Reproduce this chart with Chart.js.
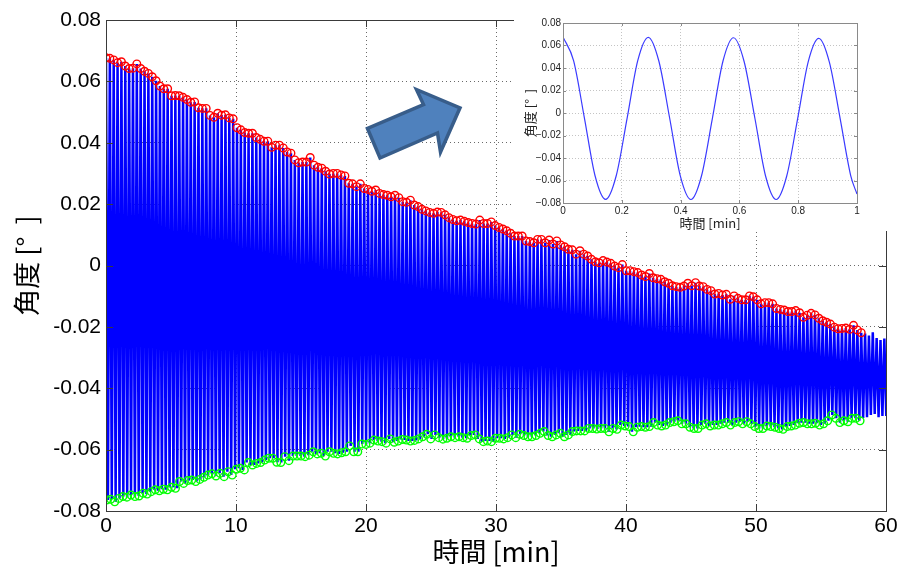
<!DOCTYPE html>
<html><head><meta charset="utf-8">
<script src="https://cdn.jsdelivr.net/npm/chart.js@4/dist/chart.umd.min.js"></script>
<style>
html,body{margin:0;padding:0;background:#fff;}
#wrap{position:relative;width:902px;height:571px;overflow:hidden;background:#fff;}
#main{position:absolute;left:0;top:0;}
#arrow{position:absolute;left:0;top:0;pointer-events:none;}
#insetBox{position:absolute;left:514px;top:0;width:388px;height:231px;background:#fff;}
#inset{position:absolute;left:0;top:0;}
</style></head><body>
<div id="wrap">
<canvas id="main" width="902" height="571"></canvas>
<svg id="arrow" width="902" height="571">
  <polygon points="367.5,128.5 380,158 437.5,133 440.5,152 460,107.8 416.5,89.5 423.5,104.5" fill="#4F81BD" stroke="#385D8A" stroke-width="3.5" stroke-linejoin="miter"/>
</svg>
<div id="insetBox"><canvas id="inset" width="388" height="231"></canvas></div>
</div>
<script>
// ---- main chart data ----
const peakValues = [
 0.0677,0.0675,0.0670,0.0661,0.0664,0.0650,0.0642,0.0643,0.0657,0.0642,
 0.0633,0.0626,0.0615,0.0602,0.0585,0.0576,0.0576,0.0553,0.0554,0.0553,
 0.0548,0.0541,0.0532,0.0533,0.0514,0.0512,0.0512,0.0489,0.0483,0.0496,
 0.0490,0.0491,0.0481,0.0478,0.0449,0.0442,0.0433,0.0431,0.0431,0.0417,
 0.0411,0.0405,0.0405,0.0385,0.0392,0.0392,0.0383,0.0370,0.0366,0.0344,
 0.0335,0.0337,0.0337,0.0352,0.0327,0.0320,0.0317,
 0.0307,0.0298,0.0300,0.0300,0.0295,0.0292,0.0268,0.0266,0.0257,0.0266,
 0.0251,0.0248,0.0242,0.0246,0.0235,0.0231,0.0229,0.0224,0.0229,0.0221,
 0.0208,0.0206,0.0213,0.0197,0.0192,0.0183,0.0178,0.0173,0.0170,0.0174,
 0.0173,0.0165,0.0156,0.0150,0.0146,0.0148,0.0144,0.0140,0.0137,0.0135,
 0.0148,0.0137,0.0137,0.0142,0.0130,0.0124,0.0119,0.0113,0.0105,0.0096,
 0.0096,0.0096,0.0080,0.0078,0.0074,0.0085,0.0085,0.0074,0.0083,0.0070,
 0.0080,0.0067,0.0061,0.0053,0.0051,0.0037,0.0048,0.0037,0.0031,0.0020,
 0.0012,0.0009,0.0016,0.0011,0.0007,-0.0002,-0.0007,0.0003,-0.0017,-0.0017,
 -0.0020,-0.0023,-0.0031,-0.0036,-0.0026,-0.0040,-0.0043,-0.0045,-0.0053,-0.0058,
 -0.0066,-0.0069,-0.0071,-0.0067,-0.0058,-0.0066,-0.0056,-0.0067,
 -0.0069,-0.0078,-0.0082,-0.0093,-0.0091,-0.0096,-0.0094,-0.0110,-0.0099,-0.0107,
 -0.0112,-0.0112,-0.0099,-0.0102,-0.0112,-0.0125,-0.0121,-0.0121,-0.0125,-0.0140,
 -0.0143,-0.0145,-0.0150,-0.0150,-0.0147,-0.0154,-0.0169,-0.0162,-0.0156,-0.0161,
 -0.0172,-0.0180,-0.0185,-0.0191,-0.0201,-0.0206,-0.0205,-0.0204,-0.0208,-0.0195,
 -0.0210,-0.0219
];
const troughValues = [
 -0.0764,-0.0762,-0.0770,-0.0759,-0.0753,-0.0755,-0.0748,-0.0753,-0.0751,-0.0742,
 -0.0745,-0.0737,-0.0731,-0.0734,-0.0729,-0.0731,-0.0723,-0.0726,-0.0704,-0.0710,
 -0.0701,-0.0699,-0.0704,-0.0697,-0.0690,-0.0683,-0.0679,-0.0686,-0.0677,-0.0688,
 -0.0672,-0.0683,-0.0664,-0.0661,-0.0666,-0.0642,-0.0650,-0.0645,-0.0642,-0.0634,
 -0.0628,-0.0628,-0.0641,-0.0642,-0.0623,-0.0636,-0.0621,-0.0621,-0.0621,-0.0623,
 -0.0618,-0.0607,-0.0614,-0.0612,-0.0621,-0.0607,-0.0612,-0.0614,-0.0610,-0.0607,
 -0.0588,-0.0607,-0.0607,-0.0582,
 -0.0583,-0.0579,-0.0569,-0.0572,-0.0574,-0.0579,-0.0565,-0.0576,-0.0572,-0.0567,
 -0.0569,-0.0572,-0.0570,-0.0565,-0.0558,-0.0550,-0.0565,-0.0552,-0.0561,-0.0566,
 -0.0563,-0.0558,-0.0561,-0.0558,-0.0561,-0.0563,-0.0554,-0.0552,-0.0565,-0.0574,
 -0.0572,-0.0574,-0.0563,-0.0563,-0.0565,-0.0561,-0.0552,-0.0561,-0.0550,-0.0554,
 -0.0558,-0.0558,-0.0554,-0.0547,-0.0541,-0.0554,-0.0558,-0.0552,-0.0547,-0.0558,
 -0.0552,-0.0541,-0.0539,-0.0539,-0.0539,-0.0531,-0.0531,-0.0533,-0.0531,
 -0.0531,-0.0542,-0.0531,-0.0534,-0.0520,-0.0523,-0.0525,-0.0542,-0.0527,-0.0525,
 -0.0527,-0.0525,-0.0512,-0.0520,-0.0523,-0.0520,-0.0512,-0.0509,-0.0506,-0.0516,
 -0.0516,-0.0527,-0.0531,-0.0531,-0.0520,-0.0516,-0.0523,-0.0520,-0.0520,-0.0516,
 -0.0512,-0.0520,-0.0512,-0.0509,-0.0516,-0.0509,-0.0516,-0.0525,-0.0531,-0.0531,
 -0.0523,-0.0525,-0.0527,-0.0531,-0.0534,-0.0525,-0.0523,-0.0520,-0.0514,-0.0512,
 -0.0516,-0.0516,-0.0514,-0.0520,-0.0516,-0.0506,-0.0487,-0.0498,-0.0512,-0.0506,
 -0.0509,-0.0498,-0.0498,-0.0506
];
// signal continues after the last marked extremum (no markers)
const tailPeakValues = [-0.0222,-0.0228,-0.0218,-0.0236,-0.0243,-0.0238];
const tailTroughValues = [-0.0497,-0.0494,-0.0487,-0.0484,-0.0494,-0.0490];
const peakPeriod = 0.2964;    // [min] spacing of maxima
const troughStart = 0.05;     // [min] first minimum
const troughPeriod = 0.3116;  // [min] spacing of minima
const xTickValues = [0,10,20,30,40,50,60];
const yTickValues = [-0.08,-0.06,-0.04,-0.02,0,0.02,0.04,0.06,0.08];

// ---- inset data (first minute) ----
const insetTimes = [0,0.036,0.073,0.109,0.145,0.181,0.218,0.254,0.290,0.326,0.363,0.399,0.435,0.471,0.508,0.544,0.580,0.616,0.653,0.689,0.725,0.761,0.798,0.834,0.870,0.906,0.943,0.979,1.0];
const insetAngles = [0.0676,0.0465,-0.0047,-0.0558,-0.0768,-0.0558,-0.0048,0.0463,0.0673,0.0462,-0.0049,-0.0559,-0.0769,-0.0560,-0.0050,0.0460,0.0669,0.0458,-0.0051,-0.0560,-0.0769,-0.0560,-0.0052,0.0455,0.0663,0.0452,-0.0054,-0.0561,-0.0720];
const insetXTickValues = [0,0.2,0.4,0.6,0.8,1];
const insetYTickValues = [-0.08,-0.06,-0.04,-0.02,0,0.02,0.04,0.06,0.08];

// ---- build point lists ----
const peakPts = peakValues.map((v,i)=>({x:i*peakPeriod, y:v}));
const troughPts = troughValues.map((v,j)=>({x:troughStart + j*troughPeriod, y:v}));
const tailPeakPts = tailPeakValues.map((v,k)=>({x:(peakValues.length+k)*peakPeriod, y:v}));
const tailTroughPts = tailTroughValues.map((v,k)=>({x:troughStart+(troughValues.length+k)*troughPeriod, y:v}));
const allPeaks = [...peakPts, ...tailPeakPts];
const allTroughs = [...troughPts, ...tailTroughPts];
// oscillating signal: each maximum followed by the measured minimum nearest to mid-cycle
const signalPts = [];
allPeaks.forEach((p,i)=>{
  signalPts.push(p);
  const mid = p.x + peakPeriod/2;
  const best = allTroughs.reduce((a,b)=> Math.abs(b.x-mid) < Math.abs(a.x-mid) ? b : a);
  signalPts.push({x:mid, y:best.y});
});

function framePlugin(color, tickLen, width){
  return {id:'frame', afterDatasetsDraw(chart){
    const {ctx, chartArea:{left,right,top,bottom}, scales:{x,y}} = chart;
    ctx.save();
    ctx.strokeStyle = color; ctx.lineWidth = width;
    ctx.beginPath();
    x.ticks.forEach(t=>{const p=Math.round(x.getPixelForValue(t.value))+0.5;
      ctx.moveTo(p,bottom); ctx.lineTo(p,bottom-tickLen); ctx.moveTo(p,top); ctx.lineTo(p,top+tickLen);});
    y.ticks.forEach(t=>{const p=Math.round(y.getPixelForValue(t.value))+0.5;
      ctx.moveTo(left,p); ctx.lineTo(left+tickLen,p); ctx.moveTo(right,p); ctx.lineTo(right-tickLen,p);});
    ctx.stroke();
    ctx.strokeRect(Math.round(left)+0.5, Math.round(top)+0.5, Math.round(right-left), Math.round(bottom-top));
    ctx.restore();
  }};
}
const fmtY = v => Math.abs(v)<1e-9 ? '0' : v.toFixed(2);

new Chart(document.getElementById('main'), {
  type:'line',
  data:{datasets:[
    {label:'max', data:peakPts, showLine:false, pointRadius:3.8, pointBorderWidth:1.4,
     pointBorderColor:'#ff0000', pointBackgroundColor:'rgba(0,0,0,0)'},
    {label:'min', data:troughPts, showLine:false, pointRadius:3.8, pointBorderWidth:1.4,
     pointBorderColor:'#00ff00', pointBackgroundColor:'rgba(0,0,0,0)'},
    {label:'角度', data:signalPts, borderColor:'#0000ff', borderWidth:2.5, pointRadius:0, fill:false, tension:0}
  ]},
  options:{
    responsive:false, animation:false, events:[],
    layout:{padding:{left:11,right:16,top:20,bottom:0}},
    plugins:{legend:{display:false}, tooltip:{enabled:false}},
    scales:{
      x:{type:'linear', min:0, max:60,
        afterBuildTicks:s=>{s.ticks = xTickValues.map(v=>({value:v}));},
        afterFit:s=>{s.height=60;},
        ticks:{font:{family:'Liberation Sans', size:21}, color:'#000', padding:3, maxRotation:0, autoSkip:false, callback:v=>String(v)},
        grid:{color:'#6a6a6a', lineWidth:1, drawTicks:false, borderDash:[1,3]},
        border:{display:false, dash:[1,3]},
        title:{display:true, text:'時間 [min]', color:'#000', font:{family:'Noto Sans CJK JP', size:27}, padding:{top:0,bottom:3}}},
      y:{type:'linear', min:-0.08, max:0.08,
        afterBuildTicks:s=>{s.ticks = yTickValues.map(v=>({value:v}));},
        afterFit:s=>{s.width=95;},
        ticks:{font:{family:'Liberation Sans', size:21}, color:'#000', padding:5, autoSkip:false, callback:fmtY},
        grid:{color:'#6a6a6a', lineWidth:1, drawTicks:false, borderDash:[1,3]},
        border:{display:false, dash:[1,3]},
        title:{display:true, text:'角度 [°  ]', color:'#000', font:{family:'Noto Sans CJK JP', size:27}, padding:{top:0,bottom:0}}}
    }
  },
  plugins:[framePlugin('#3a3a3a', 7, 1)]
});

const fmtInsetY = v => Math.abs(v)<1e-9 ? '0' : (v<0?'\u2212':'') + Math.abs(v).toFixed(2);
const fmtInsetX = v => Math.abs(v)<1e-9 ? '0' : (Math.abs(v-1)<1e-9 ? '1' : v.toFixed(1));
new Chart(document.getElementById('inset'), {
  type:'line',
  data:{datasets:[{label:'角度', data:insetTimes.map((t,i)=>({x:t,y:insetAngles[i]})),
    borderColor:'#3a3aff', borderWidth:1.2, pointRadius:0, fill:false, cubicInterpolationMode:'monotone'}]},
  options:{
    responsive:false, animation:false, events:[],
    layout:{padding:{left:8,right:45,top:23,bottom:0}},
    plugins:{legend:{display:false}, tooltip:{enabled:false}},
    scales:{
      x:{type:'linear', min:0, max:1,
        afterBuildTicks:s=>{s.ticks = insetXTickValues.map(v=>({value:v}));},
        afterFit:s=>{s.height=28;},
        ticks:{font:{family:'Liberation Sans', size:10}, color:'#222', padding:2, maxRotation:0, autoSkip:false, callback:fmtInsetX},
        grid:{color:'#c4c4c4', lineWidth:1, drawTicks:false, borderDash:[1,2]},
        border:{display:false, dash:[1,2]},
        title:{display:true, text:'時間 [min]', color:'#222', font:{family:'Noto Sans CJK JP', size:13}, padding:{top:0,bottom:0}}},
      y:{type:'linear', min:-0.08, max:0.08,
        afterBuildTicks:s=>{s.ticks = insetYTickValues.map(v=>({value:v}));},
        afterFit:s=>{s.width=41;},
        ticks:{font:{family:'Liberation Sans', size:10}, color:'#222', padding:2, autoSkip:false, callback:fmtInsetY},
        grid:{color:'#c4c4c4', lineWidth:1, drawTicks:false, borderDash:[1,2]},
        border:{display:false, dash:[1,2]},
        title:{display:true, text:'角度 [°  ]', color:'#222', font:{family:'Noto Sans CJK JP', size:13}, padding:{top:0,bottom:0}}}
    }
  },
  plugins:[framePlugin('#8a8a8a', 3, 1)]
});
</script>
</body></html>
